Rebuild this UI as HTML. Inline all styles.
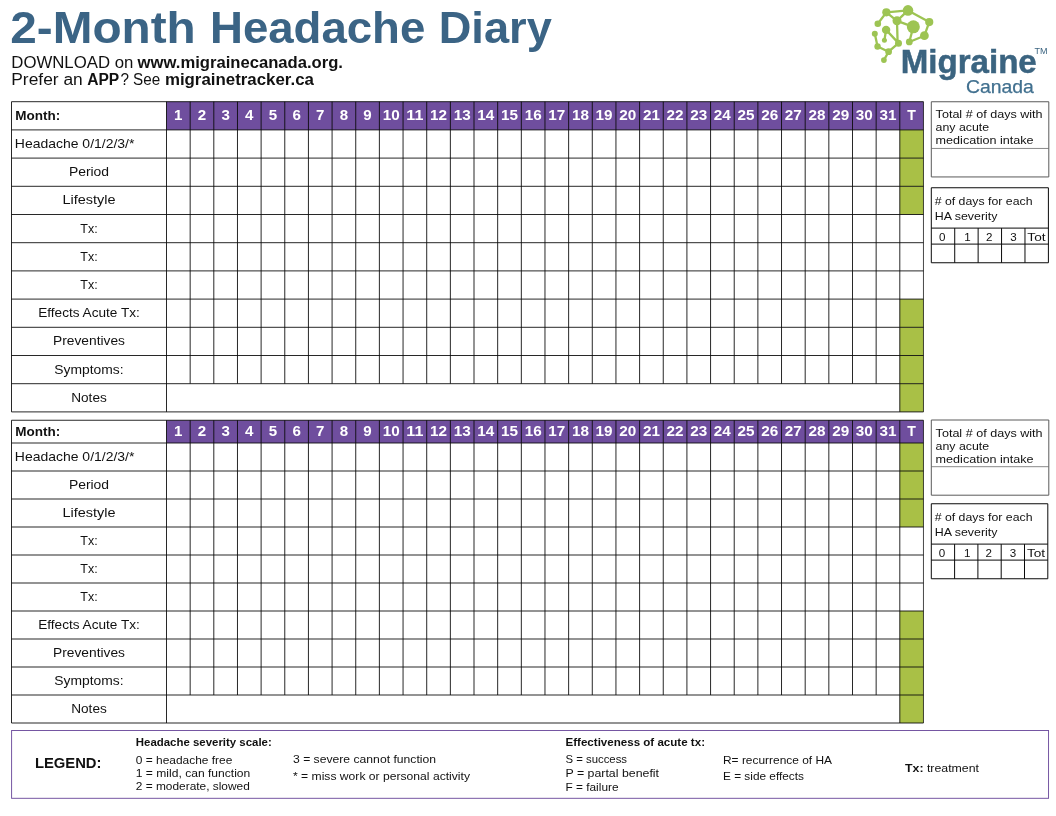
<!DOCTYPE html>
<html lang="en">
<head>
<meta charset="utf-8">
<title>2-Month Headache Diary</title>
<style>
html,body{margin:0;padding:0;background:#fff;}
body{width:1056px;height:816px;overflow:hidden;position:relative;font-family:"Liberation Sans", sans-serif;}
svg{position:absolute;left:0;top:0;display:block;}
svg text{font-family:"Liberation Sans", sans-serif;white-space:pre;}
</style>
</head>
<body>
<svg width="1056" height="816" viewBox="0 0 1056 816">
<rect width="1056" height="816" fill="#fff"/>
<g class="header">
<text y="42.9" font-size="45.2" font-weight="bold" fill="#3b6485"><tspan x="10.3" textLength="185.4" lengthAdjust="spacingAndGlyphs">2-Month</tspan> <tspan x="210.0" textLength="215.3" lengthAdjust="spacingAndGlyphs">Headache</tspan> <tspan x="438.7" textLength="113.1" lengthAdjust="spacingAndGlyphs">Diary</tspan></text>
<text x="11.3" y="67.9" font-size="16" fill="#111" textLength="122" lengthAdjust="spacingAndGlyphs">DOWNLOAD on</text>
<text x="137.6" y="67.9" font-size="16" font-weight="bold" fill="#111" textLength="205.4" lengthAdjust="spacingAndGlyphs">www.migrainecanada.org.</text>
<text x="11.3" y="84.8" font-size="16" fill="#111" textLength="71.4" lengthAdjust="spacingAndGlyphs">Prefer an</text>
<text x="87.2" y="84.8" font-size="16" font-weight="bold" fill="#111" textLength="32" lengthAdjust="spacingAndGlyphs">APP</text>
<text x="120.4" y="84.8" font-size="16" fill="#111" textLength="39.8" lengthAdjust="spacingAndGlyphs">? See</text>
<text x="164.9" y="84.8" font-size="16" font-weight="bold" fill="#111" textLength="149" lengthAdjust="spacingAndGlyphs">migrainetracker.ca</text>
</g>
<g class="logo">
<path d="M886.35 12.35L908.0 10.4M886.35 12.35L877.8 23.7M886.35 12.35L897.0 20.8M908.0 10.4L897.0 20.8M908.0 10.4L929.25 22.1M897.0 20.8L913.35 26.8M897.0 20.8L897.6 42.5M913.35 26.8L909.3 41.95M929.25 22.1L924.4 35.7M924.4 35.7L909.3 41.95M886.1 29.9L898.5 43.15M886.1 29.9L884.4 40.2M874.8 33.75L877.55 46.5M877.55 46.5L888.6 51.7M888.6 51.7L898.5 43.15M888.6 51.7L883.9 60.1" stroke="#9dc453" stroke-width="2.3" fill="none" stroke-linecap="round"/>
<circle cx="886.35" cy="12.35" r="4.1" fill="#9dc453"/>
<circle cx="908.0" cy="10.4" r="5.3" fill="#9dc453"/>
<circle cx="897.0" cy="20.8" r="4.5" fill="#9dc453"/>
<circle cx="913.35" cy="26.8" r="6.5" fill="#9dc453"/>
<circle cx="929.25" cy="22.1" r="4.1" fill="#9dc453"/>
<circle cx="924.4" cy="35.7" r="4.4" fill="#9dc453"/>
<circle cx="909.3" cy="41.95" r="3.4" fill="#9dc453"/>
<circle cx="898.5" cy="43.15" r="3.5" fill="#9dc453"/>
<circle cx="886.1" cy="29.9" r="4.2" fill="#9dc453"/>
<circle cx="884.4" cy="40.2" r="2.5" fill="#9dc453"/>
<circle cx="877.8" cy="23.7" r="3.3" fill="#9dc453"/>
<circle cx="874.8" cy="33.75" r="3.0" fill="#9dc453"/>
<circle cx="877.55" cy="46.5" r="3.2" fill="#9dc453"/>
<circle cx="888.6" cy="51.7" r="3.4" fill="#9dc453"/>
<circle cx="883.9" cy="60.1" r="2.85" fill="#9dc453"/>
<text x="900.7" y="73.3" font-size="33.2" font-weight="bold" fill="#3b6480" textLength="136.1" lengthAdjust="spacingAndGlyphs" stroke="#3b6480" stroke-width="0.5">Migraine</text>
<text x="966.0" y="93" font-size="18.6" fill="#41708f" textLength="67.8" lengthAdjust="spacingAndGlyphs" stroke="#41708f" stroke-width="0.25">Canada</text>
<text x="1034.4" y="53.8" font-size="8.4" fill="#3b6480" textLength="13" lengthAdjust="spacingAndGlyphs">TM</text>
</g>
<g class="diary-table">
<rect x="166.5" y="101.7" width="756.96" height="28.2" fill="#6f4e9e"/>
<rect x="899.81" y="129.90" width="23.65" height="28.20" fill="#a9c046"/>
<rect x="899.81" y="158.10" width="23.65" height="28.20" fill="#a9c046"/>
<rect x="899.81" y="186.30" width="23.65" height="28.20" fill="#a9c046"/>
<rect x="899.81" y="299.10" width="23.65" height="28.20" fill="#a9c046"/>
<rect x="899.81" y="327.30" width="23.65" height="28.20" fill="#a9c046"/>
<rect x="899.81" y="355.50" width="23.65" height="28.20" fill="#a9c046"/>
<rect x="899.81" y="383.70" width="23.65" height="28.20" fill="#a9c046"/>
<path d="M11.5 101.70H923.46M11.5 129.90H923.46M11.5 158.10H923.46M11.5 186.30H923.46M11.5 214.50H923.46M11.5 242.70H923.46M11.5 270.90H923.46M11.5 299.10H923.46M11.5 327.30H923.46M11.5 355.50H923.46M11.5 383.70H923.46M11.5 411.90H923.46M11.5 101.7V411.90M166.5 101.7V411.90M190.16 101.7V383.70M213.81 101.7V383.70M237.47 101.7V383.70M261.12 101.7V383.70M284.77 101.7V383.70M308.43 101.7V383.70M332.09 101.7V383.70M355.74 101.7V383.70M379.39 101.7V383.70M403.05 101.7V383.70M426.71 101.7V383.70M450.36 101.7V383.70M474.01 101.7V383.70M497.67 101.7V383.70M521.33 101.7V383.70M544.98 101.7V383.70M568.63 101.7V383.70M592.29 101.7V383.70M615.95 101.7V383.70M639.60 101.7V383.70M663.25 101.7V383.70M686.91 101.7V383.70M710.57 101.7V383.70M734.22 101.7V383.70M757.88 101.7V383.70M781.53 101.7V383.70M805.19 101.7V383.70M828.84 101.7V383.70M852.50 101.7V383.70M876.15 101.7V383.70M899.81 101.7V411.90" stroke="#0a0a0a" stroke-width="0.88" fill="none"/>
<path d="M923.46 101.7V411.90" stroke="#0a0a0a" stroke-width="0.75" fill="none"/>
<text x="174.13" y="119.90" font-size="14.2" font-weight="bold" fill="#fff" textLength="8.4" lengthAdjust="spacingAndGlyphs">1</text>
<text x="197.78" y="119.90" font-size="14.2" font-weight="bold" fill="#fff" textLength="8.4" lengthAdjust="spacingAndGlyphs">2</text>
<text x="221.44" y="119.90" font-size="14.2" font-weight="bold" fill="#fff" textLength="8.4" lengthAdjust="spacingAndGlyphs">3</text>
<text x="245.09" y="119.90" font-size="14.2" font-weight="bold" fill="#fff" textLength="8.4" lengthAdjust="spacingAndGlyphs">4</text>
<text x="268.75" y="119.90" font-size="14.2" font-weight="bold" fill="#fff" textLength="8.4" lengthAdjust="spacingAndGlyphs">5</text>
<text x="292.40" y="119.90" font-size="14.2" font-weight="bold" fill="#fff" textLength="8.4" lengthAdjust="spacingAndGlyphs">6</text>
<text x="316.06" y="119.90" font-size="14.2" font-weight="bold" fill="#fff" textLength="8.4" lengthAdjust="spacingAndGlyphs">7</text>
<text x="339.71" y="119.90" font-size="14.2" font-weight="bold" fill="#fff" textLength="8.4" lengthAdjust="spacingAndGlyphs">8</text>
<text x="363.37" y="119.90" font-size="14.2" font-weight="bold" fill="#fff" textLength="8.4" lengthAdjust="spacingAndGlyphs">9</text>
<text x="382.72" y="119.90" font-size="14.2" font-weight="bold" fill="#fff" textLength="17.0" lengthAdjust="spacingAndGlyphs">10</text>
<text x="406.38" y="119.90" font-size="14.2" font-weight="bold" fill="#fff" textLength="17.0" lengthAdjust="spacingAndGlyphs">11</text>
<text x="430.03" y="119.90" font-size="14.2" font-weight="bold" fill="#fff" textLength="17.0" lengthAdjust="spacingAndGlyphs">12</text>
<text x="453.69" y="119.90" font-size="14.2" font-weight="bold" fill="#fff" textLength="17.0" lengthAdjust="spacingAndGlyphs">13</text>
<text x="477.34" y="119.90" font-size="14.2" font-weight="bold" fill="#fff" textLength="17.0" lengthAdjust="spacingAndGlyphs">14</text>
<text x="501.00" y="119.90" font-size="14.2" font-weight="bold" fill="#fff" textLength="17.0" lengthAdjust="spacingAndGlyphs">15</text>
<text x="524.65" y="119.90" font-size="14.2" font-weight="bold" fill="#fff" textLength="17.0" lengthAdjust="spacingAndGlyphs">16</text>
<text x="548.31" y="119.90" font-size="14.2" font-weight="bold" fill="#fff" textLength="17.0" lengthAdjust="spacingAndGlyphs">17</text>
<text x="571.96" y="119.90" font-size="14.2" font-weight="bold" fill="#fff" textLength="17.0" lengthAdjust="spacingAndGlyphs">18</text>
<text x="595.62" y="119.90" font-size="14.2" font-weight="bold" fill="#fff" textLength="17.0" lengthAdjust="spacingAndGlyphs">19</text>
<text x="619.27" y="119.90" font-size="14.2" font-weight="bold" fill="#fff" textLength="17.0" lengthAdjust="spacingAndGlyphs">20</text>
<text x="642.93" y="119.90" font-size="14.2" font-weight="bold" fill="#fff" textLength="17.0" lengthAdjust="spacingAndGlyphs">21</text>
<text x="666.58" y="119.90" font-size="14.2" font-weight="bold" fill="#fff" textLength="17.0" lengthAdjust="spacingAndGlyphs">22</text>
<text x="690.24" y="119.90" font-size="14.2" font-weight="bold" fill="#fff" textLength="17.0" lengthAdjust="spacingAndGlyphs">23</text>
<text x="713.89" y="119.90" font-size="14.2" font-weight="bold" fill="#fff" textLength="17.0" lengthAdjust="spacingAndGlyphs">24</text>
<text x="737.55" y="119.90" font-size="14.2" font-weight="bold" fill="#fff" textLength="17.0" lengthAdjust="spacingAndGlyphs">25</text>
<text x="761.20" y="119.90" font-size="14.2" font-weight="bold" fill="#fff" textLength="17.0" lengthAdjust="spacingAndGlyphs">26</text>
<text x="784.86" y="119.90" font-size="14.2" font-weight="bold" fill="#fff" textLength="17.0" lengthAdjust="spacingAndGlyphs">27</text>
<text x="808.51" y="119.90" font-size="14.2" font-weight="bold" fill="#fff" textLength="17.0" lengthAdjust="spacingAndGlyphs">28</text>
<text x="832.17" y="119.90" font-size="14.2" font-weight="bold" fill="#fff" textLength="17.0" lengthAdjust="spacingAndGlyphs">29</text>
<text x="855.82" y="119.90" font-size="14.2" font-weight="bold" fill="#fff" textLength="17.0" lengthAdjust="spacingAndGlyphs">30</text>
<text x="879.48" y="119.90" font-size="14.2" font-weight="bold" fill="#fff" textLength="17.0" lengthAdjust="spacingAndGlyphs">31</text>
<text x="907.33" y="119.90" font-size="14.2" font-weight="bold" fill="#fff" textLength="8.6" lengthAdjust="spacingAndGlyphs">T</text>
<text x="15.2" y="119.90" font-size="12" font-weight="bold" fill="#111" textLength="45" lengthAdjust="spacingAndGlyphs">Month:</text>
<text x="14.8" y="148.00" font-size="12.6" fill="#111" textLength="119.6" lengthAdjust="spacingAndGlyphs">Headache 0/1/2/3/*</text>
<text x="68.90" y="176.20" font-size="12.6" fill="#111" textLength="40.2" lengthAdjust="spacingAndGlyphs">Period</text>
<text x="62.50" y="204.40" font-size="12.6" fill="#111" textLength="53" lengthAdjust="spacingAndGlyphs">Lifestyle</text>
<text x="80.30" y="232.60" font-size="12.6" fill="#111" textLength="17.4" lengthAdjust="spacingAndGlyphs">Tx:</text>
<text x="80.30" y="260.80" font-size="12.6" fill="#111" textLength="17.4" lengthAdjust="spacingAndGlyphs">Tx:</text>
<text x="80.30" y="289.00" font-size="12.6" fill="#111" textLength="17.4" lengthAdjust="spacingAndGlyphs">Tx:</text>
<text x="38.20" y="317.20" font-size="12.6" fill="#111" textLength="101.6" lengthAdjust="spacingAndGlyphs">Effects Acute Tx:</text>
<text x="53.00" y="345.40" font-size="12.6" fill="#111" textLength="72" lengthAdjust="spacingAndGlyphs">Preventives</text>
<text x="54.35" y="373.60" font-size="12.6" fill="#111" textLength="69.3" lengthAdjust="spacingAndGlyphs">Symptoms:</text>
<text x="71.20" y="401.80" font-size="12.6" fill="#111" textLength="35.6" lengthAdjust="spacingAndGlyphs">Notes</text>
</g>
<g class="side-boxes">
<path d="M931.3 101.75H1048.8V176.95H931.3Z" stroke="#5a5a5a" stroke-width="1" fill="none"/>
<path d="M931.3 148.45H1048.8" stroke="#6a6a6a" stroke-width="0.8" fill="none"/>
<text x="935.6" y="118.45" font-size="11.3" fill="#111" textLength="107" lengthAdjust="spacingAndGlyphs">Total # of days with</text>
<text x="935.6" y="131.45" font-size="11.3" fill="#111" textLength="53.6" lengthAdjust="spacingAndGlyphs">any acute</text>
<text x="935.6" y="144.45" font-size="11.3" fill="#111" textLength="98" lengthAdjust="spacingAndGlyphs">medication intake</text>
<path d="M931.3 187.75H1048.4V262.75H931.3ZM931.3 228.1H1048.4M931.3 244.1H1048.4M954.72 228.1V262.75M978.14 228.1V262.75M1001.56 228.1V262.75M1024.98 228.1V262.75" stroke="#0a0a0a" stroke-width="1" fill="none"/>
<text x="934.7" y="204.75" font-size="11.3" fill="#111" textLength="97.8" lengthAdjust="spacingAndGlyphs"># of days for each</text>
<text x="934.7" y="219.75" font-size="11.3" fill="#111" textLength="62.8" lengthAdjust="spacingAndGlyphs">HA severity</text>
<text x="942.11" y="240.9" font-size="11.6" fill="#111" text-anchor="middle">0</text>
<text x="967.43" y="240.9" font-size="11.6" fill="#111" text-anchor="middle">1</text>
<text x="989.15" y="240.9" font-size="11.6" fill="#111" text-anchor="middle">2</text>
<text x="1013.47" y="240.9" font-size="11.6" fill="#111" text-anchor="middle">3</text>
<text x="1027.38" y="240.9" font-size="11.6" fill="#111" textLength="18.2" lengthAdjust="spacingAndGlyphs">Tot</text>
</g>
<g class="diary-table">
<rect x="166.5" y="420.25" width="756.96" height="22.75" fill="#6f4e9e"/>
<rect x="899.81" y="443.00" width="23.65" height="28.00" fill="#a9c046"/>
<rect x="899.81" y="471.00" width="23.65" height="28.00" fill="#a9c046"/>
<rect x="899.81" y="499.00" width="23.65" height="28.00" fill="#a9c046"/>
<rect x="899.81" y="611.00" width="23.65" height="28.00" fill="#a9c046"/>
<rect x="899.81" y="639.00" width="23.65" height="28.00" fill="#a9c046"/>
<rect x="899.81" y="667.00" width="23.65" height="28.00" fill="#a9c046"/>
<rect x="899.81" y="695.00" width="23.65" height="28.00" fill="#a9c046"/>
<path d="M11.5 420.25H923.46M11.5 443.00H923.46M11.5 471.00H923.46M11.5 499.00H923.46M11.5 527.00H923.46M11.5 555.00H923.46M11.5 583.00H923.46M11.5 611.00H923.46M11.5 639.00H923.46M11.5 667.00H923.46M11.5 695.00H923.46M11.5 723.00H923.46M11.5 420.25V723.00M166.5 420.25V723.00M190.16 420.25V695.00M213.81 420.25V695.00M237.47 420.25V695.00M261.12 420.25V695.00M284.77 420.25V695.00M308.43 420.25V695.00M332.09 420.25V695.00M355.74 420.25V695.00M379.39 420.25V695.00M403.05 420.25V695.00M426.71 420.25V695.00M450.36 420.25V695.00M474.01 420.25V695.00M497.67 420.25V695.00M521.33 420.25V695.00M544.98 420.25V695.00M568.63 420.25V695.00M592.29 420.25V695.00M615.95 420.25V695.00M639.60 420.25V695.00M663.25 420.25V695.00M686.91 420.25V695.00M710.57 420.25V695.00M734.22 420.25V695.00M757.88 420.25V695.00M781.53 420.25V695.00M805.19 420.25V695.00M828.84 420.25V695.00M852.50 420.25V695.00M876.15 420.25V695.00M899.81 420.25V723.00" stroke="#0a0a0a" stroke-width="0.88" fill="none"/>
<path d="M923.46 420.25V723.00" stroke="#0a0a0a" stroke-width="0.75" fill="none"/>
<text x="174.13" y="435.93" font-size="14.2" font-weight="bold" fill="#fff" textLength="8.4" lengthAdjust="spacingAndGlyphs">1</text>
<text x="197.78" y="435.93" font-size="14.2" font-weight="bold" fill="#fff" textLength="8.4" lengthAdjust="spacingAndGlyphs">2</text>
<text x="221.44" y="435.93" font-size="14.2" font-weight="bold" fill="#fff" textLength="8.4" lengthAdjust="spacingAndGlyphs">3</text>
<text x="245.09" y="435.93" font-size="14.2" font-weight="bold" fill="#fff" textLength="8.4" lengthAdjust="spacingAndGlyphs">4</text>
<text x="268.75" y="435.93" font-size="14.2" font-weight="bold" fill="#fff" textLength="8.4" lengthAdjust="spacingAndGlyphs">5</text>
<text x="292.40" y="435.93" font-size="14.2" font-weight="bold" fill="#fff" textLength="8.4" lengthAdjust="spacingAndGlyphs">6</text>
<text x="316.06" y="435.93" font-size="14.2" font-weight="bold" fill="#fff" textLength="8.4" lengthAdjust="spacingAndGlyphs">7</text>
<text x="339.71" y="435.93" font-size="14.2" font-weight="bold" fill="#fff" textLength="8.4" lengthAdjust="spacingAndGlyphs">8</text>
<text x="363.37" y="435.93" font-size="14.2" font-weight="bold" fill="#fff" textLength="8.4" lengthAdjust="spacingAndGlyphs">9</text>
<text x="382.72" y="435.93" font-size="14.2" font-weight="bold" fill="#fff" textLength="17.0" lengthAdjust="spacingAndGlyphs">10</text>
<text x="406.38" y="435.93" font-size="14.2" font-weight="bold" fill="#fff" textLength="17.0" lengthAdjust="spacingAndGlyphs">11</text>
<text x="430.03" y="435.93" font-size="14.2" font-weight="bold" fill="#fff" textLength="17.0" lengthAdjust="spacingAndGlyphs">12</text>
<text x="453.69" y="435.93" font-size="14.2" font-weight="bold" fill="#fff" textLength="17.0" lengthAdjust="spacingAndGlyphs">13</text>
<text x="477.34" y="435.93" font-size="14.2" font-weight="bold" fill="#fff" textLength="17.0" lengthAdjust="spacingAndGlyphs">14</text>
<text x="501.00" y="435.93" font-size="14.2" font-weight="bold" fill="#fff" textLength="17.0" lengthAdjust="spacingAndGlyphs">15</text>
<text x="524.65" y="435.93" font-size="14.2" font-weight="bold" fill="#fff" textLength="17.0" lengthAdjust="spacingAndGlyphs">16</text>
<text x="548.31" y="435.93" font-size="14.2" font-weight="bold" fill="#fff" textLength="17.0" lengthAdjust="spacingAndGlyphs">17</text>
<text x="571.96" y="435.93" font-size="14.2" font-weight="bold" fill="#fff" textLength="17.0" lengthAdjust="spacingAndGlyphs">18</text>
<text x="595.62" y="435.93" font-size="14.2" font-weight="bold" fill="#fff" textLength="17.0" lengthAdjust="spacingAndGlyphs">19</text>
<text x="619.27" y="435.93" font-size="14.2" font-weight="bold" fill="#fff" textLength="17.0" lengthAdjust="spacingAndGlyphs">20</text>
<text x="642.93" y="435.93" font-size="14.2" font-weight="bold" fill="#fff" textLength="17.0" lengthAdjust="spacingAndGlyphs">21</text>
<text x="666.58" y="435.93" font-size="14.2" font-weight="bold" fill="#fff" textLength="17.0" lengthAdjust="spacingAndGlyphs">22</text>
<text x="690.24" y="435.93" font-size="14.2" font-weight="bold" fill="#fff" textLength="17.0" lengthAdjust="spacingAndGlyphs">23</text>
<text x="713.89" y="435.93" font-size="14.2" font-weight="bold" fill="#fff" textLength="17.0" lengthAdjust="spacingAndGlyphs">24</text>
<text x="737.55" y="435.93" font-size="14.2" font-weight="bold" fill="#fff" textLength="17.0" lengthAdjust="spacingAndGlyphs">25</text>
<text x="761.20" y="435.93" font-size="14.2" font-weight="bold" fill="#fff" textLength="17.0" lengthAdjust="spacingAndGlyphs">26</text>
<text x="784.86" y="435.93" font-size="14.2" font-weight="bold" fill="#fff" textLength="17.0" lengthAdjust="spacingAndGlyphs">27</text>
<text x="808.51" y="435.93" font-size="14.2" font-weight="bold" fill="#fff" textLength="17.0" lengthAdjust="spacingAndGlyphs">28</text>
<text x="832.17" y="435.93" font-size="14.2" font-weight="bold" fill="#fff" textLength="17.0" lengthAdjust="spacingAndGlyphs">29</text>
<text x="855.82" y="435.93" font-size="14.2" font-weight="bold" fill="#fff" textLength="17.0" lengthAdjust="spacingAndGlyphs">30</text>
<text x="879.48" y="435.93" font-size="14.2" font-weight="bold" fill="#fff" textLength="17.0" lengthAdjust="spacingAndGlyphs">31</text>
<text x="907.33" y="435.93" font-size="14.2" font-weight="bold" fill="#fff" textLength="8.6" lengthAdjust="spacingAndGlyphs">T</text>
<text x="15.2" y="435.73" font-size="12" font-weight="bold" fill="#111" textLength="45" lengthAdjust="spacingAndGlyphs">Month:</text>
<text x="14.8" y="461.00" font-size="12.6" fill="#111" textLength="119.6" lengthAdjust="spacingAndGlyphs">Headache 0/1/2/3/*</text>
<text x="68.90" y="489.00" font-size="12.6" fill="#111" textLength="40.2" lengthAdjust="spacingAndGlyphs">Period</text>
<text x="62.50" y="517.00" font-size="12.6" fill="#111" textLength="53" lengthAdjust="spacingAndGlyphs">Lifestyle</text>
<text x="80.30" y="545.00" font-size="12.6" fill="#111" textLength="17.4" lengthAdjust="spacingAndGlyphs">Tx:</text>
<text x="80.30" y="573.00" font-size="12.6" fill="#111" textLength="17.4" lengthAdjust="spacingAndGlyphs">Tx:</text>
<text x="80.30" y="601.00" font-size="12.6" fill="#111" textLength="17.4" lengthAdjust="spacingAndGlyphs">Tx:</text>
<text x="38.20" y="629.00" font-size="12.6" fill="#111" textLength="101.6" lengthAdjust="spacingAndGlyphs">Effects Acute Tx:</text>
<text x="53.00" y="657.00" font-size="12.6" fill="#111" textLength="72" lengthAdjust="spacingAndGlyphs">Preventives</text>
<text x="54.35" y="685.00" font-size="12.6" fill="#111" textLength="69.3" lengthAdjust="spacingAndGlyphs">Symptoms:</text>
<text x="71.20" y="713.00" font-size="12.6" fill="#111" textLength="35.6" lengthAdjust="spacingAndGlyphs">Notes</text>
</g>
<g class="side-boxes">
<path d="M931.3 420.0H1048.8V495.2H931.3Z" stroke="#5a5a5a" stroke-width="1" fill="none"/>
<path d="M931.3 466.7H1048.8" stroke="#6a6a6a" stroke-width="0.8" fill="none"/>
<text x="935.6" y="436.7" font-size="11.3" fill="#111" textLength="107" lengthAdjust="spacingAndGlyphs">Total # of days with</text>
<text x="935.6" y="449.7" font-size="11.3" fill="#111" textLength="53.6" lengthAdjust="spacingAndGlyphs">any acute</text>
<text x="935.6" y="462.7" font-size="11.3" fill="#111" textLength="98" lengthAdjust="spacingAndGlyphs">medication intake</text>
<path d="M931.3 503.75H1047.8V578.75H931.3ZM931.3 544.1H1047.8M931.3 560.1H1047.8M954.60 544.1V578.75M977.90 544.1V578.75M1001.20 544.1V578.75M1024.50 544.1V578.75" stroke="#0a0a0a" stroke-width="1" fill="none"/>
<text x="934.7" y="520.75" font-size="11.3" fill="#111" textLength="97.8" lengthAdjust="spacingAndGlyphs"># of days for each</text>
<text x="934.7" y="535.75" font-size="11.3" fill="#111" textLength="62.8" lengthAdjust="spacingAndGlyphs">HA severity</text>
<text x="942.05" y="556.9" font-size="11.6" fill="#111" text-anchor="middle">0</text>
<text x="967.25" y="556.9" font-size="11.6" fill="#111" text-anchor="middle">1</text>
<text x="988.85" y="556.9" font-size="11.6" fill="#111" text-anchor="middle">2</text>
<text x="1013.05" y="556.9" font-size="11.6" fill="#111" text-anchor="middle">3</text>
<text x="1026.90" y="556.9" font-size="11.6" fill="#111" textLength="18.2" lengthAdjust="spacingAndGlyphs">Tot</text>
</g>
<g class="legend">
<rect x="11.6" y="730.5" width="1036.95" height="67.8" fill="#fff" stroke="#6f4e9e" stroke-width="0.95"/>
<text x="34.9" y="768.4" font-size="15.5" font-weight="bold" fill="#111" textLength="66.6" lengthAdjust="spacingAndGlyphs">LEGEND:</text>
<text x="135.8" y="745.8" font-size="11" font-weight="bold" fill="#111" textLength="136" lengthAdjust="spacingAndGlyphs">Headache severity scale:</text>
<text x="135.8" y="764" font-size="11.3" fill="#111" textLength="96.5" lengthAdjust="spacingAndGlyphs">0 = headache free</text>
<text x="135.8" y="777" font-size="11.3" fill="#111" textLength="114.5" lengthAdjust="spacingAndGlyphs">1 = mild, can function</text>
<text x="135.8" y="790" font-size="11.3" fill="#111" textLength="114" lengthAdjust="spacingAndGlyphs">2 = moderate, slowed</text>
<text x="293" y="763" font-size="11.3" fill="#111" textLength="143" lengthAdjust="spacingAndGlyphs">3 = severe cannot function</text>
<text x="293" y="780" font-size="11.3" fill="#111" textLength="177" lengthAdjust="spacingAndGlyphs">* = miss work or personal activity</text>
<text x="565.5" y="745.8" font-size="11" font-weight="bold" fill="#111" textLength="139.5" lengthAdjust="spacingAndGlyphs">Effectiveness of acute tx:</text>
<text x="565.5" y="763" font-size="11.3" fill="#111" textLength="61.5" lengthAdjust="spacingAndGlyphs">S = success</text>
<text x="565.5" y="777" font-size="11.3" fill="#111" textLength="93.5" lengthAdjust="spacingAndGlyphs">P = partal benefit</text>
<text x="565.5" y="791" font-size="11.3" fill="#111" textLength="53" lengthAdjust="spacingAndGlyphs">F = failure</text>
<text x="723" y="764" font-size="11.3" fill="#111" textLength="109" lengthAdjust="spacingAndGlyphs">R= recurrence of HA</text>
<text x="723" y="780" font-size="11.3" fill="#111" textLength="81" lengthAdjust="spacingAndGlyphs">E = side effects</text>
<text x="905" y="772" font-size="11.3" fill="#111" textLength="74" lengthAdjust="spacingAndGlyphs"><tspan font-weight="bold">Tx:</tspan> treatment</text>
</g>
</svg>
</body>
</html>
